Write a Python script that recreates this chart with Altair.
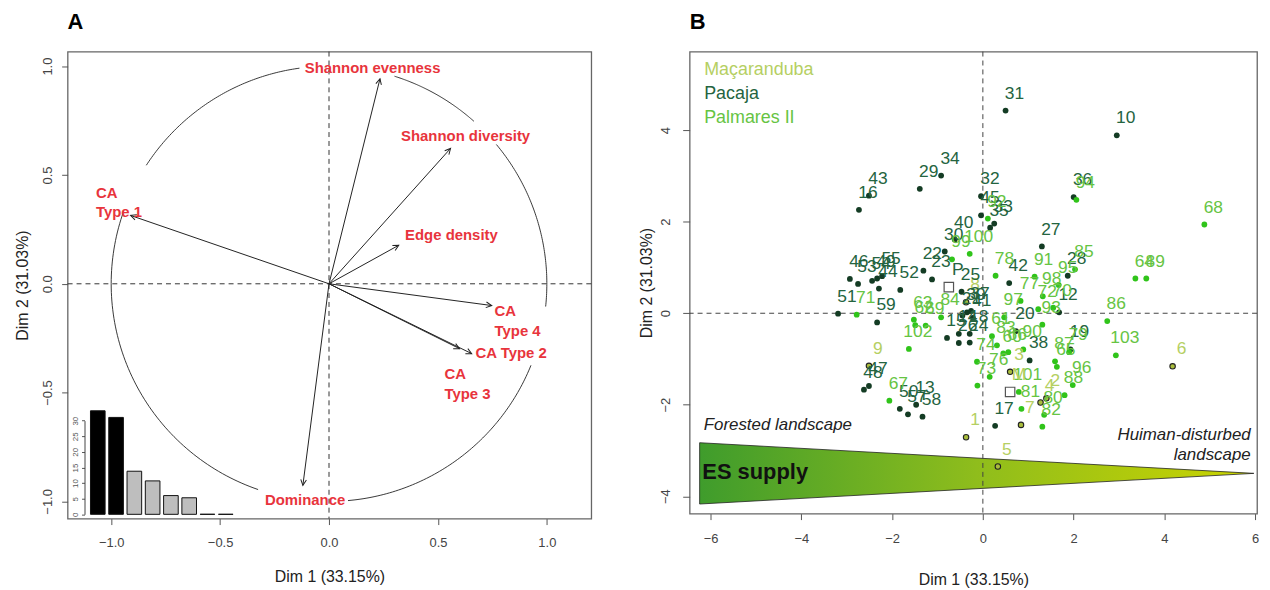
import altair as alt
import numpy as np
import pandas as pd

# ---------------- Panel A : variables factor map ----------------
var_names = ["Shannon evenness", "Shannon diversity", "Edge density", "CA Type 1",
             "CA Type 4", "CA Type 2", "CA Type 3", "Dominance"]
var_dim1 = [0.234, 0.558, 0.320, -0.911, 0.747, 0.655, 0.599, -0.120]
var_dim2 = [0.942, 0.622, 0.177, 0.314, -0.100, -0.321, -0.298, -0.926]

eig_dims = ["1", "2", "3", "4", "5", "6", "7", "8"]
eig_pct = [33.15, 31.03, 13.8, 10.7, 6.0, 5.3, 0.02, 0.01]

# ---------------- Panel B : individuals ----------------
mac_labels = ["1", "2", "3", "4", "5", "6", "7", "8", "9"]
mac_dim1 = [-0.37, 1.40, 0.60, 1.27, 0.33, 4.18, 0.84, -0.37, -2.51]
mac_dim2 = [-2.71, -1.86, -1.28, -1.95, -3.35, -1.16, -2.44, 0.24, -1.15]

pac_labels = ["31", "10", "34", "29", "43", "16", "32", "45", "35", "33", "36", "40",
              "30", "22", "23", "52", "25", "39", "37", "27", "42", "28", "12", "19",
              "38", "17", "47", "48", "50", "13", "57", "58", "46", "53", "54", "49",
              "44", "55", "51", "59", "15", "26", "14", "24", "18", "20", "21", "41"]
pac_dim1 = [0.50, 2.95, -0.92, -1.39, -2.51, -2.73, -0.04, -0.04, 0.16, 0.25, 2.00, -0.62,
            -0.84, -1.31, -1.12, -1.82, -0.47, -0.35, -0.26, 1.30, 0.58, 1.87, 1.68, 1.93,
            1.03, 0.27, -2.51, -2.62, -1.83, -1.47, -1.65, -1.33, -2.93, -2.75, -2.44, -2.33,
            -2.29, -2.22, -3.19, -2.33, -0.79, -0.53, -0.53, -0.29, -0.29, 0.73, -0.45, -0.22]
pac_dim2 = [4.43, 3.89, 3.01, 2.72, 2.57, 2.26, 2.56, 2.14, 1.87, 1.96, 2.54, 1.61,
            1.35, 0.93, 0.74, 0.51, 0.47, 0.02, 0.05, 1.46, 0.66, 0.82, 0.02, -0.79,
            -1.03, -2.46, -1.59, -1.67, -2.09, -2.00, -2.21, -2.26, 0.75, 0.64, 0.71, 0.76,
            0.54, 0.81, -0.01, -0.20, -0.54, -0.65, -0.45, -0.64, -0.45, -0.39, -0.05, -0.10]

pal_labels = ["68", "64", "89", "86", "103", "94", "92", "100", "99", "78", "91", "85",
              "95", "98", "77", "72", "70", "97", "93", "61", "83", "66", "90", "60",
              "74", "73", "76", "101", "81", "87", "65", "79", "96", "88", "80", "82",
              "62", "63", "69", "84", "71", "102", "67"]
pal_dim1 = [4.88, 3.36, 3.60, 2.74, 2.93, 2.06, 0.11, -0.29, -0.68, 0.28, 1.14, 2.03,
            1.67, 1.32, 0.83, 1.22, 1.55, 0.47, 1.31, 0.20, 0.31, 0.56, 0.89, 0.45,
            -0.13, -0.12, 0.15, 0.79, 0.85, 1.59, 1.63, 1.90, 1.98, 1.80, 1.35, 1.31,
            -1.49, -1.52, -1.26, -0.92, -2.78, -1.63, -2.06]
pal_dim2 = [1.94, 0.76, 0.76, -0.17, -0.92, 2.48, 2.07, 1.30, 1.18, 0.82, 0.80, 0.96,
            0.62, 0.37, 0.27, 0.09, 0.12, -0.09, -0.25, -0.50, -0.70, -0.85, -0.79, -0.88,
            -1.06, -1.58, -1.39, -1.72, -2.09, -1.05, -1.17, -0.85, -1.57, -1.79, -2.22, -2.48,
            -0.26, -0.14, -0.27, -0.09, -0.03, -0.78, -1.91]

centroid_labels = ["P", "M"]
centroid_site = ["Pacaja", "Maçaranduba"]
centroid_dim1 = [-0.75, 0.60]
centroid_dim2 = [0.57, -1.72]

site_names = ["Maçaranduba", "Pacaja", "Palmares II"]
site_text_col = ["#b5cf62", "#246440", "#66c443"]
site_point_col = ["#a9bd3c", "#143c24", "#30c41a"]

RED = "#e8343c"
FONT = "Liberation Sans"

# ====================== Panel A ======================
sxA = alt.Scale(domain=[-1.2, 1.204], nice=False, zero=False)
syA = alt.Scale(domain=[-1.079, 1.067], nice=False, zero=False)
axA_x = alt.Axis(values=[-1, -0.5, 0, 0.5, 1], format=".1f", title="Dim 1 (33.15%)",
                 labelPadding=12, titlePadding=19, tickSize=6)
axA_y = alt.Axis(values=[-1, -0.5, 0, 0.5, 1], format=".1f", title="Dim 2 (31.03%)",
                 labelAngle=270, labelAlign="center", labelBaseline="bottom",
                 labelPadding=7, titlePadding=11, tickSize=6)


def XA(f):
    return alt.X(f, type="quantitative", scale=sxA, axis=axA_x)


def YA(f):
    return alt.Y(f, type="quantitative", scale=syA, axis=axA_y)


arrows = pd.DataFrame({"name": var_names, "x": var_dim1, "y": var_dim2})
arrows["x0"] = 0.0
arrows["y0"] = 0.0
arrows["ang"] = (90 - np.degrees(np.arctan2(arrows["y"], arrows["x"]))) % 360

# unit correlation circle, broken where the labels sit
gaps_from = [-85, -6, 48.3, 97.8, 160.5]
gaps_to = [-22, 39.8, 72.5, 147, 251]
rows = []
for s, (a0, a1) in enumerate(zip(gaps_from, gaps_to)):
    for k, t in enumerate(np.linspace(np.radians(a0), np.radians(a1), 80)):
        rows.append({"seg": s, "ord": k, "cx": np.cos(t), "cy": np.sin(t)})
circle = pd.DataFrame(rows)

zero = pd.DataFrame({"v": [0.0]})

circ = alt.Chart(circle).mark_line(color="#222", strokeWidth=0.9).encode(
    x=XA("cx"), y=YA("cy"), detail="seg:N", order="ord:Q")
vdash = alt.Chart(zero).mark_rule(color="#333", strokeDash=[5, 4], strokeWidth=1).encode(x=XA("v"))
hdash = alt.Chart(zero).mark_rule(color="#333", strokeDash=[5, 4], strokeWidth=1).encode(y=YA("v"))
shaft = alt.Chart(arrows).mark_rule(color="#222", strokeWidth=1).encode(
    x=XA("x0"), y=YA("y0"), x2="x", y2="y")
heads = alt.Chart(arrows).mark_point(
    shape="M -0.45 0.9 L 0 0 L 0.45 0.9", filled=False, color="#222",
    strokeWidth=1, size=160, opacity=1).encode(
    x=XA("x"), y=YA("y"), angle=alt.Angle("ang:Q", scale=None))

lab_center = pd.DataFrame({
    "t": ["Shannon evenness", "Shannon diversity", "Edge density", "Dominance"],
    "x": [0.20, 0.627, 0.562, -0.11],
    "y": [0.99, 0.679, 0.224, -0.994]})
lab_left = pd.DataFrame({
    "t": ["CA\nType 1", "CA\nType 4", "CA Type 2", "CA\nType 3"],
    "x": [-1.07, 0.76, 0.673, 0.53],
    "y": [0.419, -0.124, -0.318, -0.414]})
txt_c = alt.Chart(lab_center).mark_text(
    color=RED, fontWeight="bold", fontSize=15, align="center", baseline="middle",
    font=FONT).encode(x=XA("x"), y=YA("y"), text="t:N")
txt_l = alt.Chart(lab_left).mark_text(
    color=RED, fontWeight="bold", fontSize=15, align="left", baseline="middle",
    lineBreak="\n", lineHeight=20, font=FONT).encode(x=XA("x"), y=YA("y"), text="t:N")

mainA = alt.layer(circ, vdash, hdash, shaft, heads, txt_c, txt_l)

eig = pd.DataFrame({"dim": eig_dims, "pct": eig_pct})
eig["col"] = ["#000000" if i < 2 else "#bebebe" for i in range(len(eig))]
inset = alt.Chart(eig).mark_bar(stroke="#111", strokeWidth=1).encode(
    x=alt.X("dim:O", scale=alt.Scale(range=[23, 166.5], paddingInner=0.2, paddingOuter=0),
            axis=None),
    y=alt.Y("pct:Q", scale=alt.Scale(domain=[0, 30], range=[465.7, 371.4], nice=False),
            axis=alt.Axis(orient="left", offset=-17, values=[0, 5, 10, 15, 20, 25, 30],
                          labelFontSize=8, tickSize=3, labelAngle=270, labelAlign="center",
                          labelBaseline="bottom", labelPadding=2, title=None, domain=True,
                          domainColor="#444", labelColor="#555")),
    color=alt.Color("col:N", scale=None))

panelA = alt.layer(mainA, inset).resolve_scale(x="independent", y="independent").properties(
    width=527, height=470,
    title=alt.TitleParams("A", anchor="start", frame="group", fontSize=22, fontWeight="bold",
                          font=FONT, offset=0, baseline="alphabetic"))

# ====================== Panel B ======================
sxB = alt.Scale(domain=[-6.46, 6.04], nice=False, zero=False)
syB = alt.Scale(domain=[-4.38, 5.72], nice=False, zero=False)
axB_x = alt.Axis(values=[-6, -4, -2, 0, 2, 4, 6], format="d", title="Dim 1 (33.15%)",
                 labelPadding=13, titlePadding=26, tickSize=6)
axB_y = alt.Axis(values=[-4, -2, 0, 2, 4], format="d", title="Dim 2 (31.03%)",
                 labelAngle=270, labelAlign="center", labelBaseline="bottom",
                 labelPadding=10, titlePadding=5, tickSize=7)


def XB(f):
    return alt.X(f, type="quantitative", scale=sxB, axis=axB_x)


def YB(f):
    return alt.Y(f, type="quantitative", scale=syB, axis=axB_y)


ind = pd.concat([
    pd.DataFrame({"site": "Maçaranduba", "lab": mac_labels, "x": mac_dim1, "y": mac_dim2}),
    pd.DataFrame({"site": "Pacaja", "lab": pac_labels, "x": pac_dim1, "y": pac_dim2}),
    pd.DataFrame({"site": "Palmares II", "lab": pal_labels, "x": pal_dim1, "y": pal_dim2}),
], ignore_index=True)
cent = pd.DataFrame({"site": centroid_site, "lab": centroid_labels,
                     "x": centroid_dim1, "y": centroid_dim2})

tri = pd.DataFrame({"x": [-6.24, 5.97], "top": [-2.83, -3.5], "bot": [-4.17, -3.5]})
grad = alt.Gradient(gradient="linear",
                    stops=[alt.GradientStop(color="#3f9c2c", offset=0),
                           alt.GradientStop(color="#8fbd1c", offset=0.5),
                           alt.GradientStop(color="#cbd400", offset=1)],
                    x1=0, x2=1, y1=0, y2=0)
triangle = alt.Chart(tri).mark_area(color=grad, stroke="#222", strokeWidth=0.8,
                                    opacity=1).encode(x=XB("x"), y=YB("top"), y2="bot")

vdashB = alt.Chart(zero).mark_rule(color="#444", strokeDash=[5, 4], strokeWidth=1).encode(x=XB("v"))
hdashB = alt.Chart(zero).mark_rule(color="#444", strokeDash=[5, 4], strokeWidth=1).encode(y=YB("v"))

# text colours go through the colour scale, point colours through the fill scale
text_col = alt.Color("site:N", scale=alt.Scale(domain=site_names, range=site_text_col), legend=None)
point_fill = alt.Fill("site:N", scale=alt.Scale(domain=site_names, range=site_point_col), legend=None)

pts_other = alt.Chart(ind).transform_filter("datum.site != 'Maçaranduba'").mark_circle(
    size=34, opacity=1, strokeWidth=0).encode(x=XB("x"), y=YB("y"), fill=point_fill)
pts_mac = alt.Chart(ind).transform_filter("datum.site == 'Maçaranduba'").mark_circle(
    size=30, opacity=1, stroke="#222", strokeWidth=1.1).encode(x=XB("x"), y=YB("y"), fill=point_fill)
cent_pts = alt.Chart(cent).mark_point(shape="square", filled=False, stroke="#555",
                                      size=90, strokeWidth=1.2, opacity=1).encode(
    x=XB("x"), y=YB("y"))
labs = alt.Chart(pd.concat([ind, cent], ignore_index=True)).mark_text(
    fontSize=17.5, dx=9, dy=-17, baseline="middle", align="center", font=FONT).encode(
    x=XB("x"), y=YB("y"), text="lab:N", color=text_col)

legend_df = pd.DataFrame({"site": site_names, "x": [-6.14] * 3, "y": [5.31, 4.80, 4.26]})
legend_txt = alt.Chart(legend_df).mark_text(fontSize=18, align="left", baseline="middle",
                                            font=FONT).encode(
    x=XB("x"), y=YB("y"), text="site:N", color=text_col)

ann = pd.DataFrame({"t": ["Forested landscape"], "x": [-6.15], "y": [-2.44]})
ann_txt = alt.Chart(ann).mark_text(fontSize=17, fontStyle="italic", align="left",
                                   baseline="middle", color="#222", font=FONT).encode(
    x=XB("x"), y=YB("y"), text="t:N")
ann2 = pd.DataFrame({"t": ["Huiman-disturbed\nlandscape"], "x": [5.9], "y": [-2.66]})
ann2_txt = alt.Chart(ann2).mark_text(fontSize=17, fontStyle="italic", align="right",
                                     baseline="middle", color="#222", lineBreak="\n",
                                     lineHeight=20, font=FONT).encode(
    x=XB("x"), y=YB("y"), text="t:N")
es = pd.DataFrame({"t": ["ES supply"], "x": [-6.18], "y": [-3.47]})
es_txt = alt.Chart(es).mark_text(fontSize=22, fontWeight="bold", align="left",
                                 baseline="middle", color="#111", font=FONT).encode(
    x=XB("x"), y=YB("y"), text="t:N")

panelB = alt.layer(triangle, vdashB, hdashB, es_txt, ann_txt, ann2_txt, pts_other, pts_mac,
                   cent_pts, labs, legend_txt).properties(
    width=571, height=465,
    title=alt.TitleParams("B", anchor="start", frame="group", fontSize=22, fontWeight="bold",
                          font=FONT, offset=0, baseline="alphabetic"))

chart = alt.hconcat(panelA, panelB, spacing=45).properties(
    padding={"left": 6, "top": 0, "right": 2, "bottom": 0}
).configure_axis(
    domain=False, grid=False, labelColor="#444", tickColor="#555", labelFont=FONT,
    titleFont=FONT, labelFontSize=13, titleFontSize=16, titleFontWeight="normal",
    titleColor="#222"
).configure_view(stroke="#666", strokeWidth=1.3).configure_text(font=FONT)

chart.save("out.html", embed_options={"renderer": "svg", "actions": False})
